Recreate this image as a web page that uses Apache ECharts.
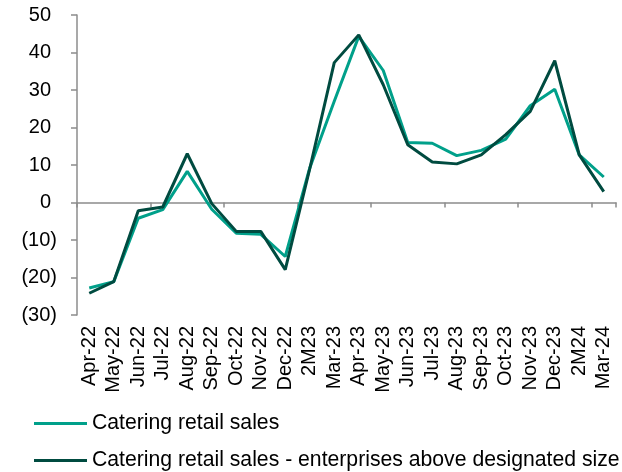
<!DOCTYPE html>
<html>
<head>
<meta charset="utf-8">
<script src="https://cdn.jsdelivr.net/npm/echarts@6/dist/echarts.min.js"></script>
<style>html,body{margin:0;padding:0;background:#fff}#c{width:622px;height:472px}</style>
</head>
<body>
<div id="c"></div>
<script>
const categories = ['Apr-22','May-22','Jun-22','Jul-22','Aug-22','Sep-22','Oct-22','Nov-22','Dec-22','2M23','Mar-23','Apr-23','May-23','Jun-23','Jul-23','Aug-23','Sep-23','Oct-23','Nov-23','Dec-23','2M24','Mar-24'];
const cateringRetail = [-22.8,-21.1,-4.2,-1.9,8.3,-1.8,-8.2,-8.5,-14.4,9.2,27.0,44.3,35.2,16.0,15.8,12.5,13.9,16.9,25.8,30.2,12.7,6.8];
const cateringAboveSize = [-24.2,-21.1,-2.2,-1.2,13.0,-0.3,-7.7,-7.7,-17.9,9.0,37.3,44.7,31.4,15.4,10.8,10.3,12.7,18.1,24.3,37.8,12.7,2.9];
const seriesNames = ['Catering retail sales','Catering retail sales - enterprises above designated size'];
const seriesColors = ['#00a08a','#004b40'];

const font = "'Liberation Sans', Arial, sans-serif";
const axisFont = 20;
const legendFont = 21.2;
const legendBase = {
  left: 34, itemWidth: 53, itemHeight: 3, itemGap: 0, icon: 'rect',
  textStyle: { fontFamily: font, fontSize: legendFont, color: '#000' },
  padding: 0
};
const chart = echarts.init(document.getElementById('c'));
chart.setOption({
  animation: false,
  backgroundColor: '#fff',
  textStyle: { fontFamily: font, color: '#000' },
  grid: { left: 77, right: 6, top: 15, bottom: 157, containLabel: false, outerBoundsMode: 'none' },
  legend: [
    Object.assign({}, legendBase, { top: 413, data: [seriesNames[0]] }),
    Object.assign({}, legendBase, { top: 450, data: [seriesNames[1]] })
  ],
  xAxis: [
    {
      type: 'category', data: categories, boundaryGap: true,
      axisLine: { onZero: true, lineStyle: { color: '#8c8c8c', width: 1.5 } },
      axisTick: { show: true, length: 5, alignWithLabel: false, lineStyle: { color: '#8c8c8c', width: 1.5 } },
      axisLabel: { show: false }
    },
    {
      type: 'category', data: categories, boundaryGap: true, position: 'bottom',
      axisLine: { show: false, onZero: false },
      axisTick: { show: false },
      axisLabel: { rotate: 90, interval: 0, margin: 11, fontSize: axisFont, fontFamily: font, color: '#000' }
    }
  ],
  yAxis: {
    type: 'value', min: -30, max: 50, interval: 10,
    axisLine: { show: true, lineStyle: { color: '#8c8c8c', width: 1.5 } },
    axisTick: { show: true, length: 6, lineStyle: { color: '#8c8c8c', width: 1.5 } },
    splitLine: { show: false },
    axisLabel: {
      margin: 20, fontSize: axisFont, fontFamily: font, color: '#000',
      formatter: v => v < 0 ? '{n|(' + Math.abs(v) + ')}' : '{p|' + v + '}',
      rich: {
        n: { fontSize: axisFont, fontFamily: font, color: '#000' },
        p: { fontSize: axisFont, fontFamily: font, color: '#000', padding: [0,6,0,0] }
      }
    }
  },
  series: [
    { name: seriesNames[0], type: 'line', xAxisIndex: 0, data: cateringRetail, symbol: 'none',
      lineStyle: { width: 3, color: seriesColors[0] }, itemStyle: { color: seriesColors[0] } },
    { name: seriesNames[1], type: 'line', xAxisIndex: 0, data: cateringAboveSize, symbol: 'none',
      lineStyle: { width: 3, color: seriesColors[1] }, itemStyle: { color: seriesColors[1] } }
  ]
});
</script>
</body>
</html>
